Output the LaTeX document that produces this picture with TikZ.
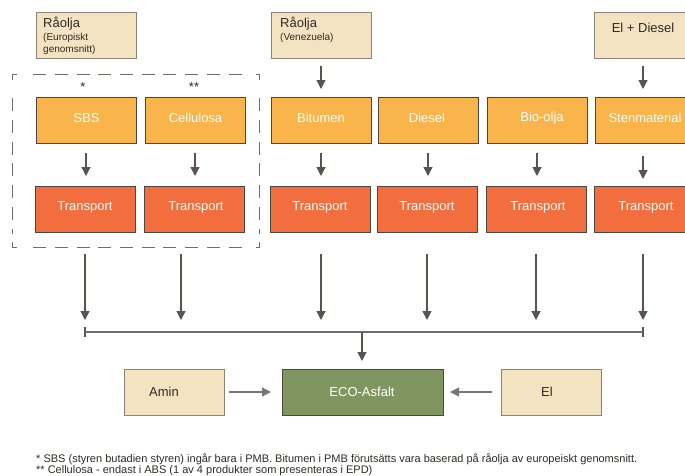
\documentclass[tikz,border=0pt]{standalone}
\usepackage{fontspec}
\setmainfont{Liberation Sans}
\usetikzlibrary{arrows.meta,calc}
\definecolor{beige}{HTML}{F4E3C1}
\definecolor{beigeline}{HTML}{8C8278}
\definecolor{orangefill}{HTML}{F9B44C}
\definecolor{transfill}{HTML}{F26E3F}
\definecolor{greenfill}{HTML}{7F9661}
\definecolor{darkline}{HTML}{4E4640}
\definecolor{arrowcol}{HTML}{5A5350}
\definecolor{txt}{HTML}{2E2A28}
\begin{document}
\begin{tikzpicture}[x=1pt,y=-1pt,
  box/.style={draw=darkline,line width=0.9pt,minimum width=100pt,minimum height=46pt,inner sep=0pt,outer sep=0pt},
  srcbox/.style={box,draw=beigeline,fill=beige},
  matbox/.style={box,fill=orangefill},
  trbox/.style={box,fill=transfill},
  ecobox/.style={box,fill=greenfill,minimum width=161pt},
  wtxt/.style={text=white,font=\fontsize{13}{15}\selectfont,inner sep=0pt},
  btxt/.style={text=txt,font=\fontsize{13}{15}\selectfont,inner sep=0pt},
  stxt/.style={text=txt,font=\fontsize{10}{12}\selectfont,inner sep=0pt,anchor=west},
  arr/.style={draw=arrowcol,line width=1.2pt,-{Triangle[width=9pt,length=9pt]}},
  harr/.style={draw=arrowcol!80,line width=1.2pt,-{Triangle[width=9pt,length=9pt]}},
  grpline/.style={draw=arrowcol!85,line width=1pt},
  grpdash/.style={grpline,dash pattern=on 13pt off 8.7pt},
  note/.style={text=txt,font=\fontsize{11}{13}\selectfont,inner sep=0pt,anchor=west}]
\useasboundingbox (0,0) rectangle (685,475);
% source boxes
\node[srcbox] (r1) at (86,35) {};
\node[btxt,anchor=west] (r1a) at (43,24) {Råolja};
\node[stxt] (r1b) at (43,37.5) {(Europiskt};
\node[stxt] (r1c) at (43,50) {genomsnitt)};
\node[srcbox] (r2) at (321,35) {};
\node[btxt,anchor=west] (r2a) at (280,24) {Råolja};
\node[stxt] (r2b) at (280,37.5) {(Venezuela)};
\node[srcbox] (r3) at (644,35) {};
\node[btxt] (r3a) at (643,28) {El + Diesel};
% dashed group
\coordinate (gtl) at (12.7,74.3);
\coordinate (gtr) at (259.7,74.3);
\coordinate (gbl) at (12.7,247.5);
\coordinate (gbr) at (259.7,247.5);
\draw[grpline] ($(gtl)+(0,6)$) -- (gtl) -- ($(gtl)+(4,0)$);
\draw[grpline] ($(gtr)+(0,6)$) -- (gtr) -- ($(gtr)+(-4,0)$);
\draw[grpline] ($(gbl)+(0,-6)$) -- (gbl) -- ($(gbl)+(4,0)$);
\draw[grpline] ($(gbr)+(0,-6)$) -- (gbr) -- ($(gbr)+(-4,0)$);
\draw[grpdash] ($(gtl)+(20.5,0)$) -- ($(gtr)+(-14,0)$);
\draw[grpdash] ($(gbl)+(20.5,0)$) -- ($(gbr)+(-14,0)$);
\draw[grpdash] ($(gtl)+(0,24)$) -- ($(gbl)+(0,-14)$);
\draw[grpdash] ($(gtr)+(0,24)$) -- ($(gbr)+(0,-14)$);
\node[btxt] (st1) at (83,87) {*};
\node[btxt] (st2) at (194,87) {**};
% material row
\node[matbox] (sbs) at (86,120) {};
\node[wtxt] at (86.5,118) {SBS};
\node[matbox] (cel) at (195,120) {};
\node[wtxt] at (195.5,118) {Cellulosa};
\node[matbox] (bit) at (321,120) {};
\node[wtxt] at (321,118) {Bitumen};
\node[matbox] (die) at (428,120) {};
\node[wtxt] at (427,118) {Diesel};
\node[matbox] (bio) at (537,120) {};
\node[wtxt] at (542,118) {Bio-olja};
\node[matbox] (sten) at (645,120) {};
\node[wtxt] at (645,118) {Stenmaterial};
% transport row
\node[trbox] (t1) at (85,209) {};
\node[wtxt] at (85,207) {Transport};
\node[trbox] (t2) at (194,209) {};
\node[wtxt] at (196,207) {Transport};
\node[trbox] (t3) at (320,209) {};
\node[wtxt] at (320,207) {Transport};
\node[trbox] (t4) at (427,209) {};
\node[wtxt] at (427,207) {Transport};
\node[trbox] (t5) at (536,209) {};
\node[wtxt] at (538,207) {Transport};
\node[trbox] (t6) at (644,209) {};
\node[wtxt] at (646,207) {Transport};
% bottom row
\node[srcbox] (amin) at (174,392) {};
\node[btxt] at (164,392) {Amin};
\node[ecobox] (eco) at (362.5,392) {};
\node[wtxt] at (362,392) {ECO-Asfalt};
\node[srcbox] (el) at (551,392) {};
\node[btxt] at (547,392) {El};
% collector bar
\coordinate (b1) at (85,332);
\coordinate (b2) at (181,332);
\coordinate (b3) at (321,332);
\coordinate (b4) at (427,332);
\coordinate (b5) at (536,332);
\coordinate (b6) at (643,332);
\coordinate (bm) at (362,332);
\draw[draw=arrowcol,line width=1.2pt] ($(b1)+(0,-5)$) -- ($(b1)+(0,5)$);
\draw[draw=arrowcol,line width=1.2pt] ($(b6)+(0,-5)$) -- ($(b6)+(0,5)$);
\draw[draw=arrowcol!85,line width=1.2pt] (b1) -- (b6);
% arrows top
\draw[arr,shorten <=8pt,shorten >=8pt] (r2.south) -- (bit.north);
\draw[arr,shorten <=8pt,shorten >=8pt] (r3.south -| b6) -- (sten.north -| b6);
% arrows material -> transport
\draw[arr,shorten <=10pt,shorten >=10pt] (sbs.south) -- (sbs.south |- t1.north);
\draw[arr,shorten <=10pt,shorten >=10pt] (cel.south) -- (cel.south |- t2.north);
\draw[arr,shorten <=10pt,shorten >=10pt] (bit.south) -- (bit.south |- t3.north);
\draw[arr,shorten <=10pt,shorten >=10pt] (die.south) -- (die.south |- t4.north);
\draw[arr,shorten <=10pt,shorten >=10pt] (bio.south) -- (bio.south |- t5.north);
\draw[arr,shorten <=13pt,shorten >=7pt] (sten.south -| b6) -- (t6.north -| b6);
% long arrows
\draw[arr,shorten <=22pt,shorten >=12pt] (b1 |- t1.south) -- (b1);
\draw[arr,shorten <=22pt,shorten >=12pt] (b2 |- t2.south) -- (b2);
\draw[arr,shorten <=22pt,shorten >=12pt] (b3 |- t3.south) -- (b3);
\draw[arr,shorten <=22pt,shorten >=12pt] (b4 |- t4.south) -- (b4);
\draw[arr,shorten <=22pt,shorten >=12pt] (b5 |- t5.south) -- (b5);
\draw[arr,shorten <=22pt,shorten >=12pt] (b6 |- t6.south) -- (b6);
% to eco
\draw[arr] (bm) -- ($(eco.north -| bm)+(0,-8)$);
\draw[harr,shorten <=5pt,shorten >=11pt] (amin.east) -- (eco.west);
\draw[harr,shorten <=9pt,shorten >=7pt] (el.west) -- (eco.east);
% notes
\node[note] (n1) at (36,459) {* SBS (styren butadien styren) ingår bara i PMB. Bitumen i PMB förutsätts vara baserad på råolja av europeiskt genomsnitt.};
\node[note] (n2) at (36,471) {** Cellulosa - endast i ABS (1 av 4 produkter som presenteras i EPD)};
\end{tikzpicture}
\end{document}
